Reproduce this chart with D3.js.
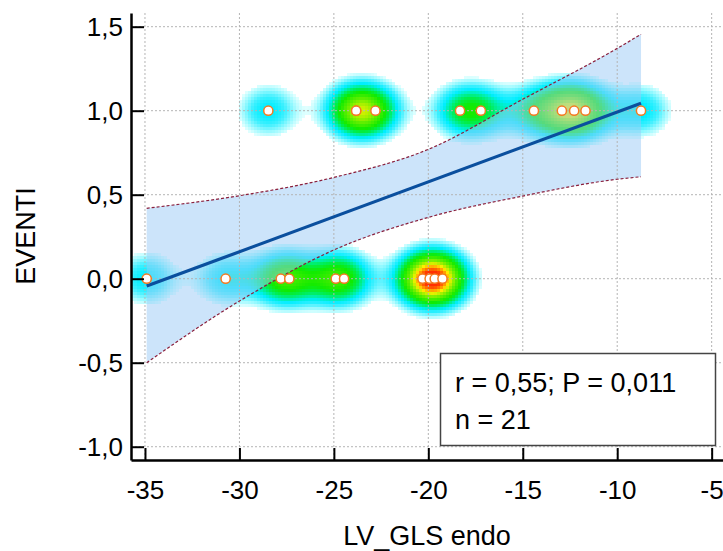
<!DOCTYPE html>
<html lang="it">
<head>
<meta charset="UTF-8">
<title>LV_GLS endo vs EVENTI</title>
<script src="https://d3js.org/d3.v7.min.js"></script>
<style>
  body { margin: 0; background: #fff; }
  svg { display: block; font-family: "Liberation Sans", Arial, sans-serif; }
  .axis path, .axis line { stroke: #000; }
  .axis text { font-size: 26px; fill: #000; }
  .grid line { stroke: #b4b4b4; stroke-width: 1; stroke-dasharray: 2,2; }
</style>
</head>
<body>
<svg width="723" height="551"></svg>
<script>
// values (one point at -23.82 is hidden under its twin)
const xOnes  = [-28.47, -23.82, -23.82, -22.80, -18.32, -17.22, -14.41, -12.93, -12.28, -11.68, -8.74];
const xZeros = [-34.91, -30.73, -27.81, -27.36, -24.90, -24.46, -20.31, -19.93, -19.66, -19.25];

// regression line and 95% band, read at a few x positions
const fitX = [-34.91, -8.74];
const fitY = [-0.044, 1.045];
const bandX     = [-34.91, -30, -25, -20, -15, -10, -8.74];
const bandUpper = [0.419, 0.494, 0.603, 0.770, 1.068, 1.371, 1.455];
const bandLower = [-0.500, -0.133, 0.171, 0.365, 0.492, 0.592, 0.607];

const xTicks = [-35, -30, -25, -20, -15, -10, -5];
const yTicks = [-1.0, -0.5, 0.0, 0.5, 1.0, 1.5];

const statLines = ["r = 0,55; P = 0,011", "n = 21"];

const svg = d3.select("svg");
const mLeft = 131, mRight = 723, mTop = 13, mBottom = 460;

const x = d3.scaleLinear().domain([-35.74, -4.40]).range([mLeft, mRight]);
const y = d3.scaleLinear().domain([-1.079, 1.5815]).range([mBottom, mTop]);

const points = xOnes.map(v => ({ x: v, y: 1 })).concat(xZeros.map(v => ({ x: v, y: 0 })));

svg.append("clipPath").attr("id", "plot")
  .append("rect").attr("x", mLeft).attr("y", mTop).attr("width", mRight - mLeft).attr("height", mBottom - mTop);

// density shading (gaussian kernel in pixel space, 3px cells)
const cell = 3, sx = 22, sy = 19, cut = 0.1;
const cells = [];
for (let py = mTop; py < mBottom; py += cell) {
  for (let px = mLeft; px < mRight; px += cell) {
    const cx = px + cell / 2, cy = py + cell / 2;
    let s = 0;
    points.forEach(p => {
      const dx = cx - x(p.x), dy = cy - y(p.y);
      s += Math.exp(-dx * dx / (2 * sx * sx) - dy * dy / (2 * sy * sy));
    });
    cells.push({ px, py, s });
  }
}
const maxS = d3.max(cells, d => d.s);
const color = d3.scaleLinear()
  .domain([cut, 0.14, 0.2, 0.26, 0.3, 0.38, 0.46, 0.6, 0.7, 0.76, 0.84, 0.93])
  .range(["#e0ffff", "#a0faff", "#40f0ff", "#00eeff", "#00f0c0", "#00ee50", "#10eb00", "#60ee00", "#b4f000", "#fff000", "#ff9000", "#ff3000"])
  .clamp(true);

svg.append("g").attr("clip-path", "url(#plot)")
  .selectAll("rect")
  .data(cells.filter(d => d.s / maxS > cut))
  .join("rect")
  .attr("x", d => d.px).attr("y", d => d.py)
  .attr("width", cell).attr("height", cell)
  .attr("fill", d => color(d.s / maxS))
  .attr("shape-rendering", "crispEdges");

// confidence band
const bandData = bandX.map((v, i) => ({ x: v, lo: bandLower[i], hi: bandUpper[i] }));
svg.append("path")
  .datum(bandData)
  .attr("fill", "#99c9f5")
  .attr("fill-opacity", 0.5)
  .attr("d", d3.area().curve(d3.curveMonotoneX).x(d => x(d.x)).y0(d => y(d.lo)).y1(d => y(d.hi)));

// grid
const grid = svg.append("g").attr("class", "grid");
grid.selectAll("line.v").data(xTicks).join("line").attr("class", "v")
  .attr("x1", d => x(d)).attr("x2", d => x(d)).attr("y1", mTop).attr("y2", mBottom);
grid.selectAll("line.h").data(yTicks).join("line").attr("class", "h")
  .attr("x1", mLeft).attr("x2", mRight).attr("y1", d => y(d)).attr("y2", d => y(d));

// band edges
["hi", "lo"].forEach(k => {
  svg.append("path")
    .datum(bandData)
    .attr("fill", "none")
    .attr("stroke", "#8a1f3c")
    .attr("stroke-width", 1.2)
    .attr("stroke-dasharray", "3,2")
    .attr("d", d3.line().curve(d3.curveMonotoneX).x(d => x(d.x)).y(d => y(d[k])));
});

// regression line
svg.append("path")
  .datum(fitX.map((v, i) => [v, fitY[i]]))
  .attr("fill", "none")
  .attr("stroke", "#0a4f9e")
  .attr("stroke-width", 3.2)
  .attr("d", d3.line().x(d => x(d[0])).y(d => y(d[1])));

// points
svg.append("g").selectAll("circle")
  .data(points)
  .join("circle")
  .attr("cx", d => x(d.x)).attr("cy", d => y(d.y))
  .attr("r", 4.6)
  .attr("fill", "#fff")
  .attr("stroke", "#f47a20")
  .attr("stroke-width", 1.5);

// axes
const fmt = d => d3.format(".1f")(d).replace(".", ",").replace("−", "-");
const yAxis = svg.append("g").attr("class", "axis")
  .attr("transform", `translate(${mLeft},0)`)
  .call(d3.axisLeft(y).tickValues(yTicks).tickFormat(fmt).tickSizeInner(-13).tickSizeOuter(0).tickPadding(8));
yAxis.select(".domain").attr("stroke-width", 2.5);
yAxis.selectAll(".tick line").attr("stroke-width", 2);

const xAxis = svg.append("g").attr("class", "axis")
  .attr("transform", `translate(0,${mBottom})`)
  .call(d3.axisBottom(x).tickValues(xTicks).tickFormat(d => String(d)).tickSizeInner(-12).tickSizeOuter(0).tickPadding(21));
xAxis.select(".domain").attr("stroke-width", 2.5);
xAxis.selectAll(".tick line").attr("stroke-width", 2);
svg.selectAll(".axis text").attr("font-family", null);
svg.selectAll(".axis").attr("font-size", null);

// axis titles
svg.append("text")
  .attr("x", 427).attr("y", 545)
  .attr("text-anchor", "middle")
  .attr("font-size", 27)
  .text("LV_GLS endo");
svg.append("text")
  .attr("transform", "translate(35,236) rotate(-90)")
  .attr("text-anchor", "middle")
  .attr("font-size", 27)
  .text("EVENTI");

// stats box
const box = svg.append("g");
box.append("rect")
  .attr("x", 440.5).attr("y", 353.5).attr("width", 275).attr("height", 92)
  .attr("fill", "#fff").attr("stroke", "#444").attr("stroke-width", 1.5);
box.selectAll("text").data(statLines).join("text")
  .attr("x", 455).attr("y", (d, i) => 392 + i * 37)
  .attr("font-size", 27)
  .text(d => d);
</script>
</body>
</html>
